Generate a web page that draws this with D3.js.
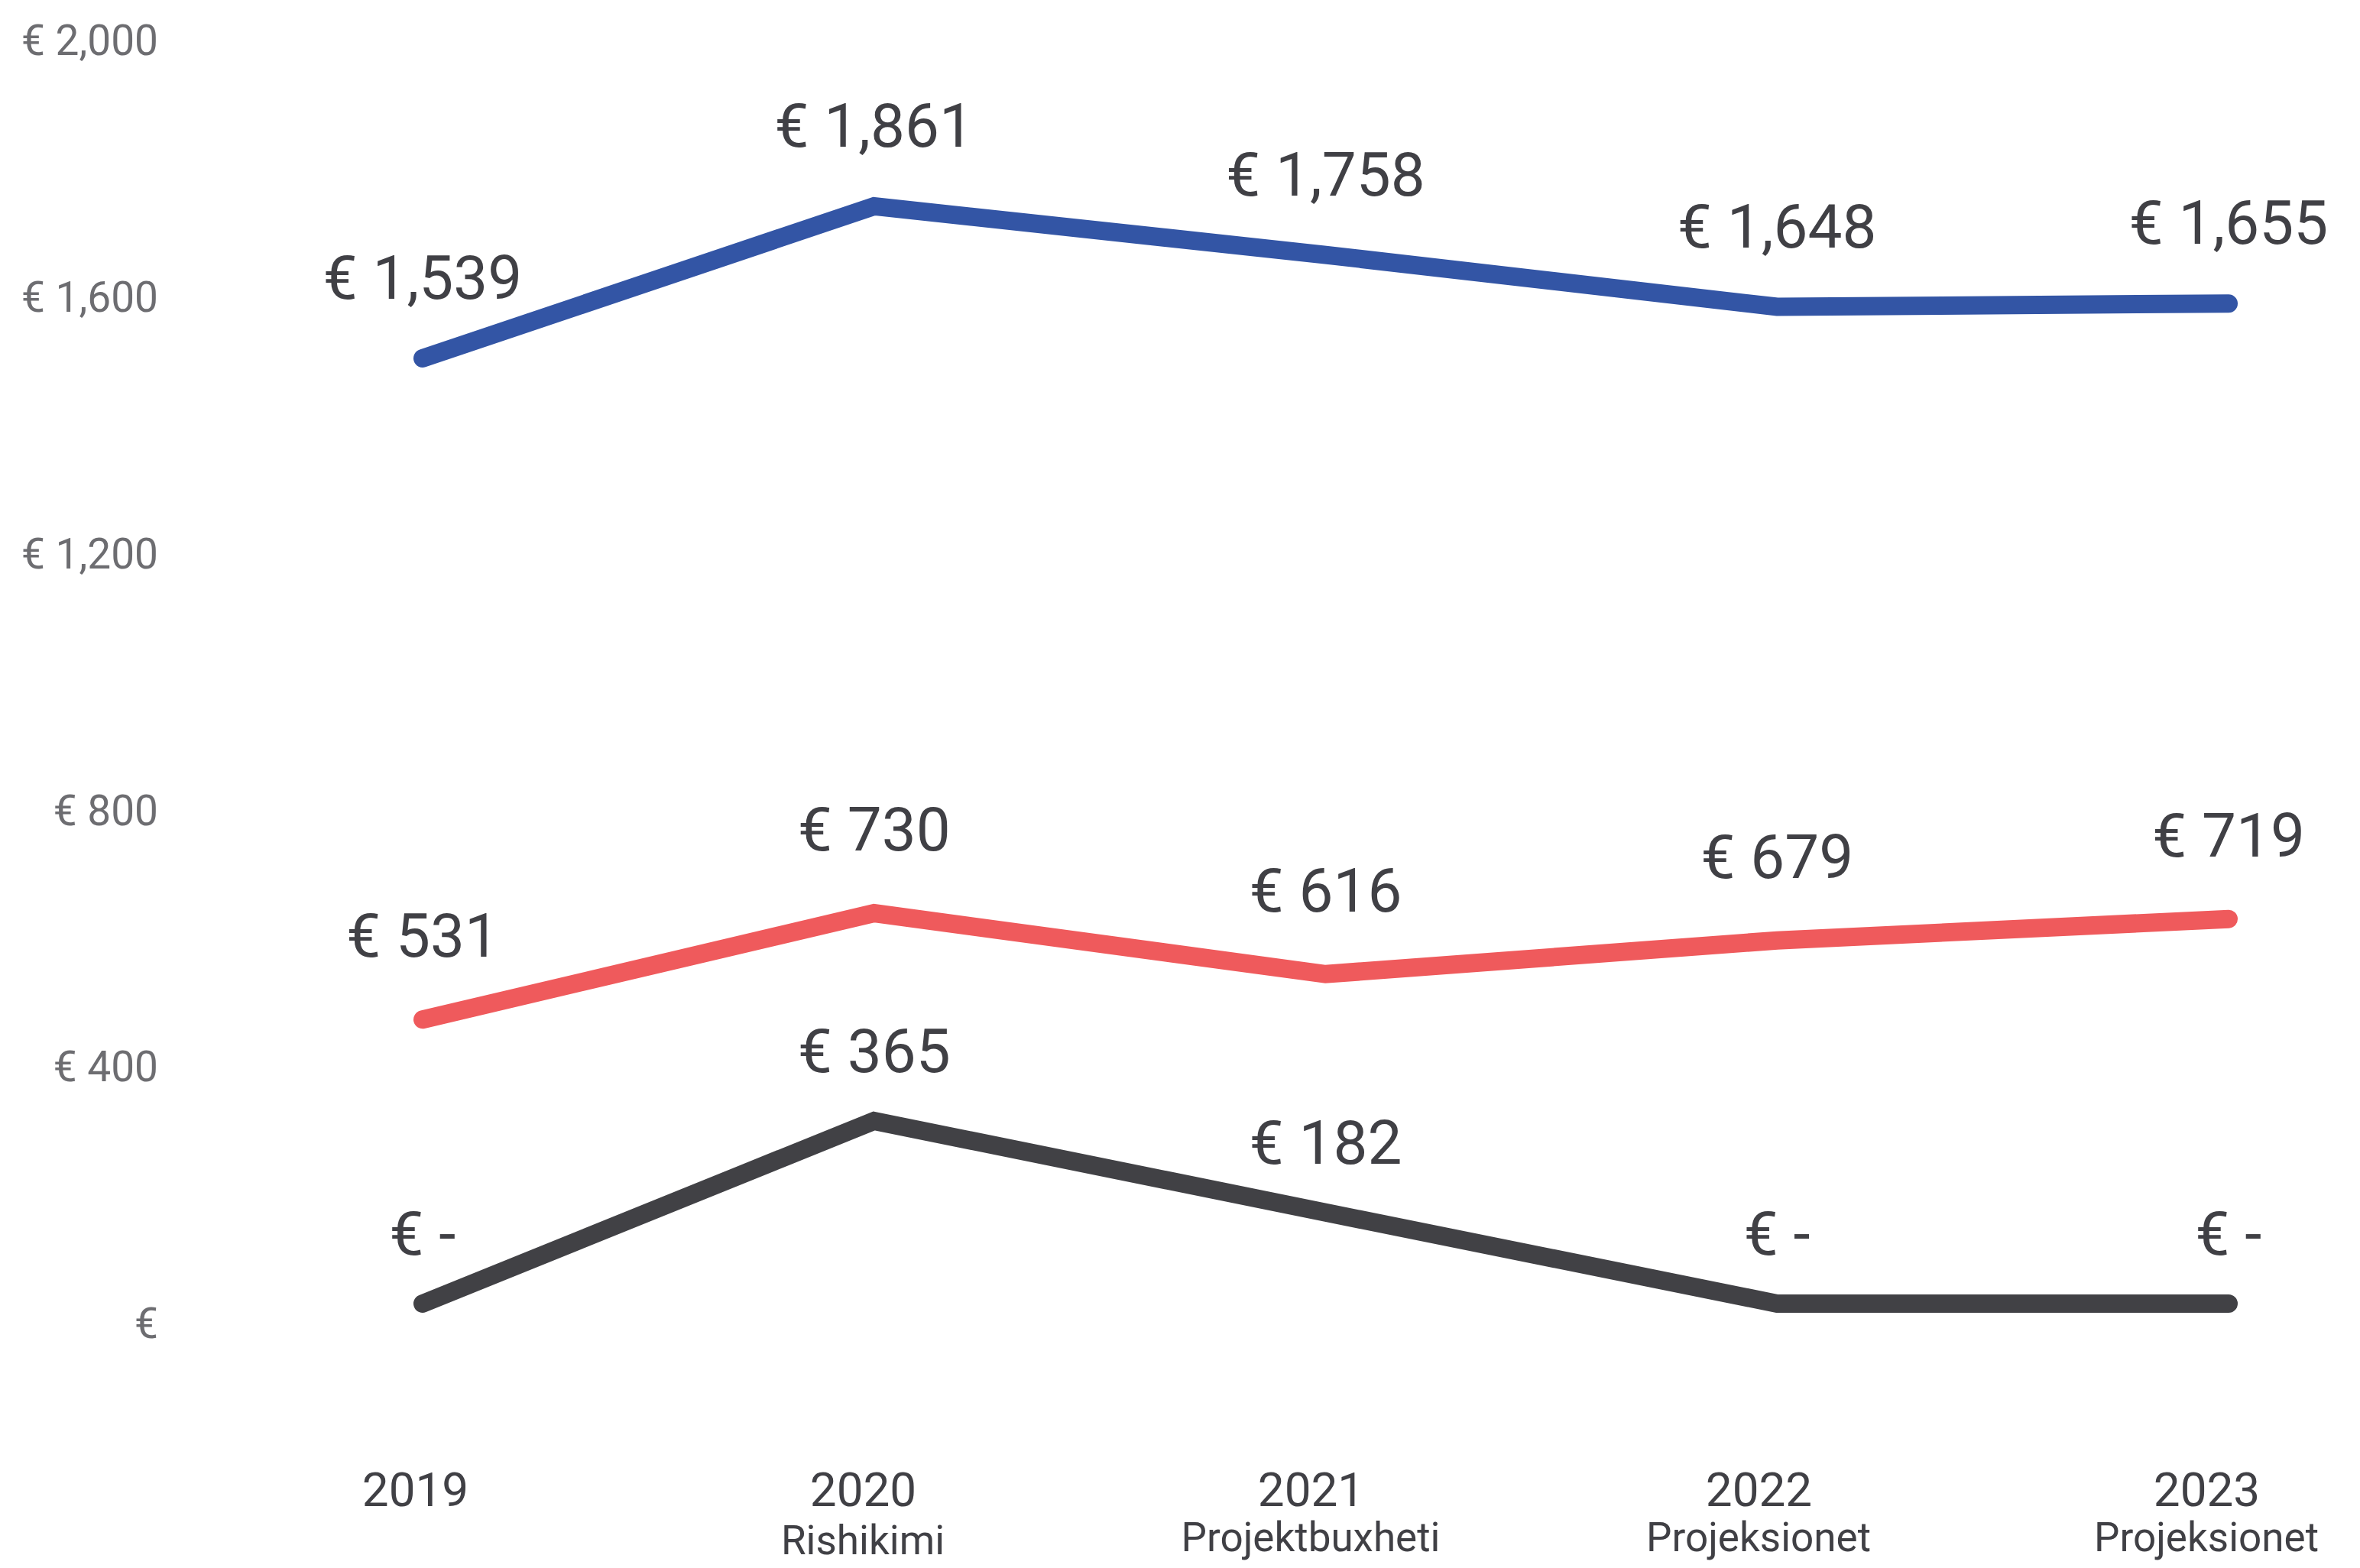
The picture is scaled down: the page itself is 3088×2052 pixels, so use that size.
<!DOCTYPE html>
<html>
<head>
<meta charset="utf-8">
<script src="https://cdn.jsdelivr.net/npm/d3@7"></script>
<style>
  html, body { margin: 0; padding: 0; background: #fff; }
  text { font-family: Roboto, "Open Sans", sans-serif; }
</style>
</head>
<body>
<div id="chart"></div>
<script>
// categories and sub captions on the x axis
var years = ["2019", "2020", "2021", "2022", "2023"];
var subLabels = ["", "Rishikimi", "Projektbuxheti", "Projeksionet", "Projeksionet"];

// series values (euro)
var blueValues = [1539, 1861, 1758, 1648, 1655];
var redValues = [531, 730, 616, 679, 719];
var darkValues = [0, 365, 182, 0, 0];

// y tick values and their labels
var yTicks = [0, 400, 800, 1200, 1600, 2000];
var yTickLabels = ["€", "€ 400", "€ 800", "€ 1,200", "€ 1,600", "€ 2,000"];

var width = 3088, height = 2052;

var svg = d3.select("#chart")
  .append("svg")
    .attr("width", width)
    .attr("height", height)
    .style("display", "block");

svg.append("rect")
  .attr("width", width)
  .attr("height", height)
  .attr("fill", "#ffffff");

// axis scale (labels on the left)
var y = d3.scaleLinear()
    .domain([0, 2000])
    .range([1733, 54]);

// the lines in the source are placed each on its own vertical scale
var yBlue = d3.scaleLinear().domain([0, 2000]).range([1420, 184]);
var yRed = d3.scaleLinear().domain([0, 2000]).range([1706, 306]);
var yDark = d3.scaleLinear().domain([0, 2000]).range([1706, 396]);

var x = d3.scalePoint()
    .domain(years)
    .range([553, 2916]);

// category captions sit a little left of the points
var xLabel = d3.scalePoint()
    .domain(years)
    .range([543, 2887]);

// y axis
var yAxisG = svg.append("g")
    .attr("transform", "translate(207,0)")
    .call(d3.axisLeft(y)
      .tickValues(yTicks)
      .tickSize(0)
      .tickPadding(0)
      .tickFormat(function(d){ return yTickLabels[yTicks.indexOf(d)]; }));
yAxisG.select(".domain").remove();
yAxisG.selectAll("text")
    .attr("fill", "#6d6d71")
    .style("font-size", "55px")
    .style("font-family", "Roboto, sans-serif");

// x axis captions
var xAxisG = svg.append("g")
    .attr("transform", "translate(0,1949)")
    .call(d3.axisBottom(xLabel).tickSize(0).tickPadding(0));
xAxisG.select(".domain").remove();
xAxisG.selectAll("text")
    .attr("dy", "0.35em")
    .attr("fill", "#404045")
    .style("font-size", "62px")
    .style("font-family", "Roboto, sans-serif");

svg.selectAll(".sublabel")
  .data(subLabels)
  .enter()
  .append("text")
    .attr("class", "sublabel")
    .attr("x", function(d, i){ return xLabel(years[i]); })
    .attr("y", function(d, i){ return i === 1 ? 2015 : 2011; })
    .attr("dy", "0.35em")
    .attr("text-anchor", "middle")
    .attr("fill", "#404045")
    .style("font-size", "53px")
    .text(function(d){ return d; });

var series = [
  {values: darkValues, scale: yDark, color: "#414145", labelGap: 92},
  {values: redValues, scale: yRed, color: "#ef5a5c", labelGap: 110},
  {values: blueValues, scale: yBlue, color: "#3355a5", labelGap: 106}
];

var fmt = d3.format(",");

series.forEach(function(s){
  var line = d3.line()
    .x(function(d, i){ return x(years[i]); })
    .y(function(d){ return s.scale(d); });

  svg.append("path")
    .datum(s.values)
    .attr("d", line)
    .attr("fill", "none")
    .attr("stroke", s.color)
    .attr("stroke-width", 24)
    .attr("stroke-linecap", "round")
    .attr("stroke-linejoin", "miter");

  svg.selectAll(null)
    .data(s.values)
    .enter()
    .append("text")
      .attr("x", function(d, i){ return x(years[i]); })
      .attr("y", function(d){ return s.scale(d) - s.labelGap; })
      .attr("dy", "0.35em")
      .attr("text-anchor", "middle")
      .attr("fill", "#404045")
      .style("font-size", "80px")
      .text(function(d){ return d === 0 ? "€ -" : "€ " + fmt(d); });
});
</script>
</body>
</html>
